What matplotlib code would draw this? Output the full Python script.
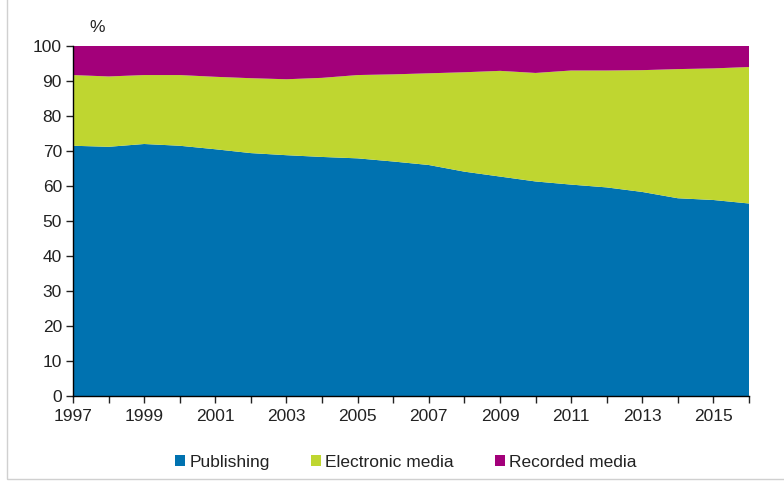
import matplotlib
matplotlib.use("Agg")
import matplotlib.pyplot as plt
from matplotlib.patches import Rectangle, Patch
import numpy as np

plt.rcParams['font.family'] = ['Liberation Sans', 'DejaVu Sans']

years = list(range(1997, 2017))
publishing = [71.5, 71.2, 72.0, 71.5, 70.5, 69.4, 68.8, 68.3, 67.9, 67.0,
              66.0, 64.1, 62.7, 61.3, 60.4, 59.6, 58.3, 56.5, 56.0, 55.0]
top_of_electronic = [91.7, 91.3, 91.7, 91.7, 91.2, 90.8, 90.5, 90.9, 91.7, 91.9,
                     92.2, 92.5, 92.9, 92.3, 93.0, 93.0, 93.1, 93.4, 93.6, 94.0]
electronic = [t - p for t, p in zip(top_of_electronic, publishing)]
recorded = [100 - t for t in top_of_electronic]

labels = ["Publishing", "Electronic media", "Recorded media"]
colors = ["#0072b0", "#bfd630", "#a3007a"]

fig = plt.figure(figsize=(7.84, 4.86), dpi=100)
ax = fig.add_axes([73/784, 90/486, 676/784, 350/486])

ax.stackplot(years, publishing, electronic, recorded, colors=colors, linewidth=0)

ax.set_xlim(1997, 2016)
ax.set_ylim(0, 100)
ax.set_xticks(years)
ax.set_xticklabels([str(y) if (y - 1997) % 2 == 0 else "" for y in years])
ax.set_yticks(np.arange(0, 101, 10))
ax.tick_params(direction='out', length=5, width=1, labelsize=12.5, colors='#222222')
ax.tick_params(axis='x', pad=4)
ax.tick_params(axis='y', pad=3)
for s in ['top', 'right']:
    ax.spines[s].set_visible(False)
for s in ['left', 'bottom']:
    ax.spines[s].set_linewidth(1)

fig.text(97/784, 1 - 27/486, "%", fontsize=12.5, ha='center', va='center', color='#222222')

handles = [Patch(facecolor=c, edgecolor='none') for c in colors]
fig.legend(handles, labels, loc='center', bbox_to_anchor=(406/784, 1 - 462/486),
           ncol=3, frameon=False, fontsize=12.5, handlelength=0.55, handleheight=0.55,
           handletextpad=0.25, columnspacing=2.4, labelcolor='#222222')

# light grey frame around the picture
fig.patches.append(Rectangle((7/784, 7/486), 1.0, 1.0, transform=fig.transFigure,
                             fill=False, edgecolor='#d0d0d0', linewidth=1))

fig.savefig("out.png", dpi=100)
